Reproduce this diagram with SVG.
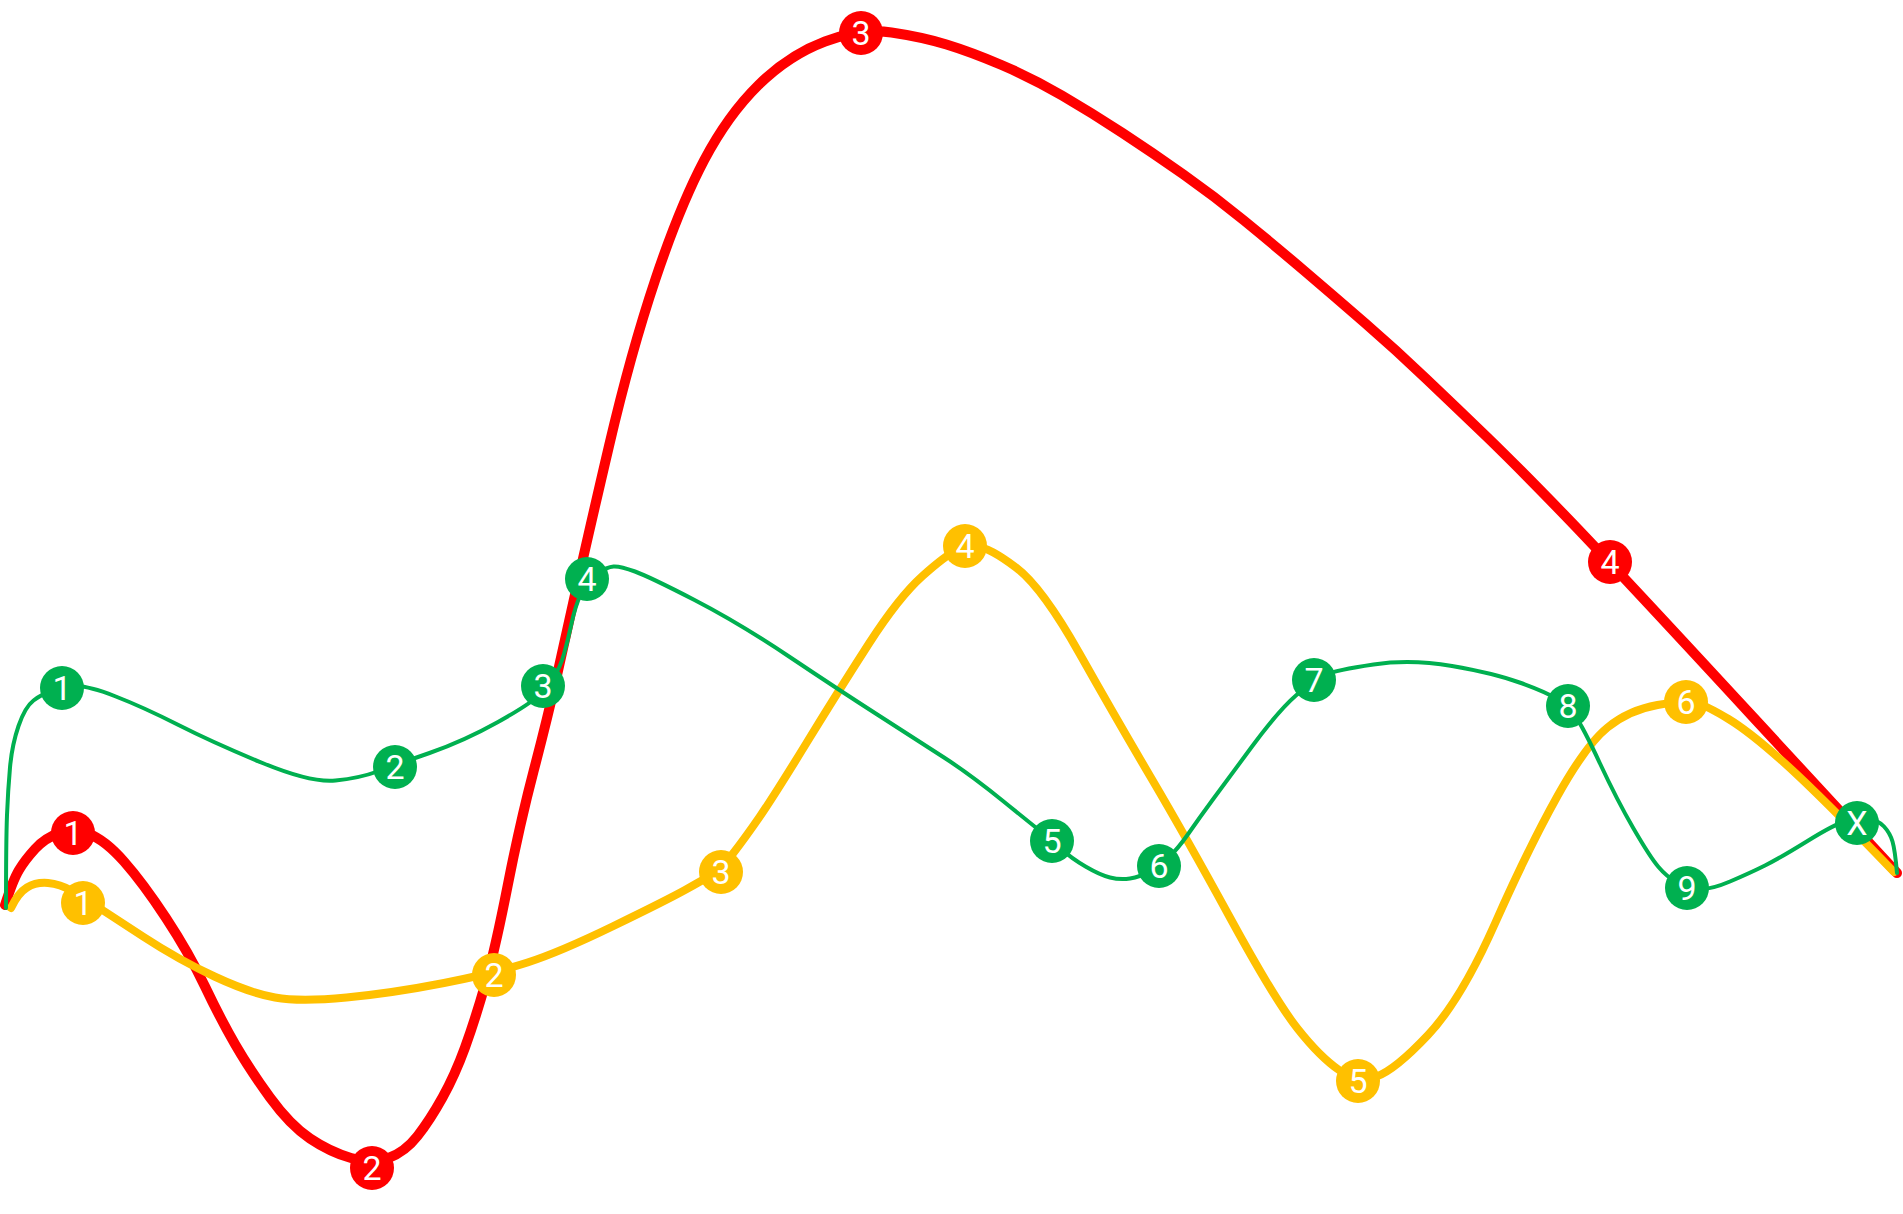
<svg xmlns="http://www.w3.org/2000/svg" width="1903" height="1214" viewBox="0 0 1903 1214">
<style>
.line{fill:none;stroke-linecap:round;stroke-linejoin:round}
.red{stroke:#FF0000;stroke-width:10}
.yellow{stroke:#FFC000;stroke-width:8}
.green{stroke:#00B050;stroke-width:4}
.node text{font-family:Roboto,"Liberation Sans",sans-serif;font-size:34px;fill:#FFFFFF;text-anchor:middle}
.r circle{fill:#FF0000}
.y circle{fill:#FFC000}
.g circle{fill:#00B050}
</style>
<rect width="1903" height="1214" fill="#FFFFFF"/>
<g id="connectors">
<path class="line red" d="M 5 905 Q 13 880 19 870 Q 25 860 35 849 Q 45 838 59 833 Q 73 828 89 834 Q 105 840 124 861.5 Q 143 883 166 918 Q 189 953 205 986.5 Q 221 1020 235.5 1045 Q 250 1070 270 1097.5 Q 290 1125 310 1138.5 Q 330 1152 351 1158 Q 372 1164 388.5 1158 Q 405 1152 417.5 1136 Q 430 1120 442.5 1097.5 Q 455 1075 465 1047.5 Q 475 1020 485 985 Q 495 950 507.5 886.5 Q 520 823 533.5 771.5 Q 547 720 556 680 Q 565 640 576 590 Q 587 540 609 446 Q 631 352 655.5 279 Q 680 206 704 160.5 Q 728 115 758.5 85 Q 789 55 825 41.5 Q 861 28 891.5 32.5 Q 922 37 946.5 44.5 Q 971 52 1001.5 65 Q 1032 78 1062 95.5 Q 1092 113 1122.5 133 Q 1153 153 1183.5 174.5 Q 1214 196 1244 220.5 Q 1274 245 1304.5 271 Q 1335 297 1365.5 323.5 Q 1396 350 1426 378.5 Q 1456 407 1486.5 436.5 Q 1517 466 1563.5 514 Q 1610 562 1753.5 717.5 L 1897 873"/>
<path class="line yellow" d="M 11 908 Q 18 893 27 887.5 Q 36 882 48 883 Q 60 884 72 891 Q 84 898 95.5 905.5 Q 107 913 143 936.5 Q 179 960 214.5 976.5 Q 250 993 275 997.5 Q 300 1002 346.5 997.5 Q 393 993 444 983 Q 495 973 527.5 962.5 Q 560 952 613.5 926 Q 667 900 685 890 Q 703 880 712 874.5 Q 721 869 733 853.5 Q 745 838 759.5 817 Q 774 796 806.5 743 Q 839 690 869 643.5 Q 899 597 922.5 576 Q 946 555 956.5 550.5 Q 967 546 978.5 547 Q 990 548 1016 567.5 Q 1042 587 1079.5 653.5 Q 1117 720 1151.5 778.5 Q 1186 837 1230.5 918.5 Q 1275 1000 1297.5 1028.5 Q 1320 1057 1339 1070 Q 1358 1083 1376.5 1076.5 Q 1395 1070 1428 1035 Q 1461 1000 1495 923.5 Q 1529 847 1557.5 796 Q 1586 745 1607.5 727.5 Q 1629 710 1657.5 705 Q 1686 700 1696.5 703 Q 1707 706 1728.5 719 Q 1750 732 1785 763.5 Q 1820 795 1894 872"/>
<path class="line green" d="M 6 908 Q 6 840 7 815 Q 8 790 10 767.5 Q 12 745 18.5 726 Q 25 707 33.5 700.5 Q 42 694 52 691 Q 62 688 74 686.5 Q 86 685 114.5 696 Q 143 707 178.5 725 Q 214 743 262.5 763 Q 311 783 335.5 780.5 Q 360 778 377.5 771.5 Q 395 765 429.5 753 Q 464 741 498 722 Q 532 703 540 694 Q 548 685 554 676.5 Q 560 668 564 654 Q 568 640 571.5 623.5 Q 575 607 581 593.5 Q 587 580 597 573.5 Q 607 567 613.5 566.5 Q 620 566 635 571.5 Q 650 577 694.5 600 Q 739 623 789 656.5 Q 839 690 878 715 Q 917 740 944 757.5 Q 971 775 1003 801 Q 1035 827 1044 834 Q 1053 841 1062 849.5 Q 1071 858 1085.5 866.5 Q 1100 875 1110 877.5 Q 1120 880 1130 878.5 Q 1140 877 1149.5 871.5 Q 1159 866 1168 858 Q 1177 850 1188.5 833.5 Q 1200 817 1212.5 800 Q 1225 783 1252 746.5 Q 1279 710 1296.5 695 Q 1314 680 1325 675 Q 1336 670 1373.5 664.5 Q 1411 659 1452 666 Q 1493 673 1519.5 682.5 Q 1546 692 1557 699 Q 1568 706 1575.5 716.5 Q 1583 727 1600 763.5 Q 1617 800 1633.5 828.5 Q 1650 857 1658.5 867 Q 1667 877 1677 882.5 Q 1687 888 1698.5 889 Q 1710 890 1730 881.5 Q 1750 873 1765 865.5 Q 1780 858 1807.5 841 Q 1835 824 1846 821 Q 1857 818 1867.5 819 Q 1878 820 1884 826.5 Q 1890 833 1892.5 841.5 Q 1895 850 1897 873"/>
</g>
<g id="node-r1" class="node r"><circle cx="73" cy="833" r="22"/><text x="73" y="845">1</text></g>
<g id="node-r2" class="node r"><circle cx="372" cy="1168" r="22"/><text x="372" y="1180">2</text></g>
<g id="node-r3" class="node r"><circle cx="861" cy="33" r="22"/><text x="861" y="45">3</text></g>
<g id="node-r4" class="node r"><circle cx="1610" cy="562" r="22"/><text x="1610" y="574">4</text></g>
<g id="node-y1" class="node y"><circle cx="83" cy="903" r="22"/><text x="83" y="915">1</text></g>
<g id="node-y2" class="node y"><circle cx="494" cy="975" r="22"/><text x="494" y="987">2</text></g>
<g id="node-y3" class="node y"><circle cx="721" cy="872" r="22"/><text x="721" y="884">3</text></g>
<g id="node-y4" class="node y"><circle cx="965" cy="546" r="22"/><text x="965" y="558">4</text></g>
<g id="node-y5" class="node y"><circle cx="1358" cy="1081" r="22"/><text x="1358" y="1093">5</text></g>
<g id="node-y6" class="node y"><circle cx="1686" cy="702" r="22"/><text x="1686" y="714">6</text></g>
<g id="node-g1" class="node g"><circle cx="62" cy="688" r="22"/><text x="62" y="700">1</text></g>
<g id="node-g2" class="node g"><circle cx="395" cy="767" r="22"/><text x="395" y="779">2</text></g>
<g id="node-g3" class="node g"><circle cx="543" cy="686" r="22"/><text x="543" y="698">3</text></g>
<g id="node-g4" class="node g"><circle cx="587" cy="579" r="22"/><text x="587" y="591">4</text></g>
<g id="node-g5" class="node g"><circle cx="1052" cy="841" r="22"/><text x="1052" y="853">5</text></g>
<g id="node-g6" class="node g"><circle cx="1159" cy="866" r="22"/><text x="1159" y="878">6</text></g>
<g id="node-g7" class="node g"><circle cx="1314" cy="680" r="22"/><text x="1314" y="692">7</text></g>
<g id="node-g8" class="node g"><circle cx="1568" cy="706" r="22"/><text x="1568" y="718">8</text></g>
<g id="node-g9" class="node g"><circle cx="1687" cy="888" r="22"/><text x="1687" y="900">9</text></g>
<g id="node-gx" class="node g"><circle cx="1857" cy="823" r="22"/><text x="1857" y="835">X</text></g>
</svg>
